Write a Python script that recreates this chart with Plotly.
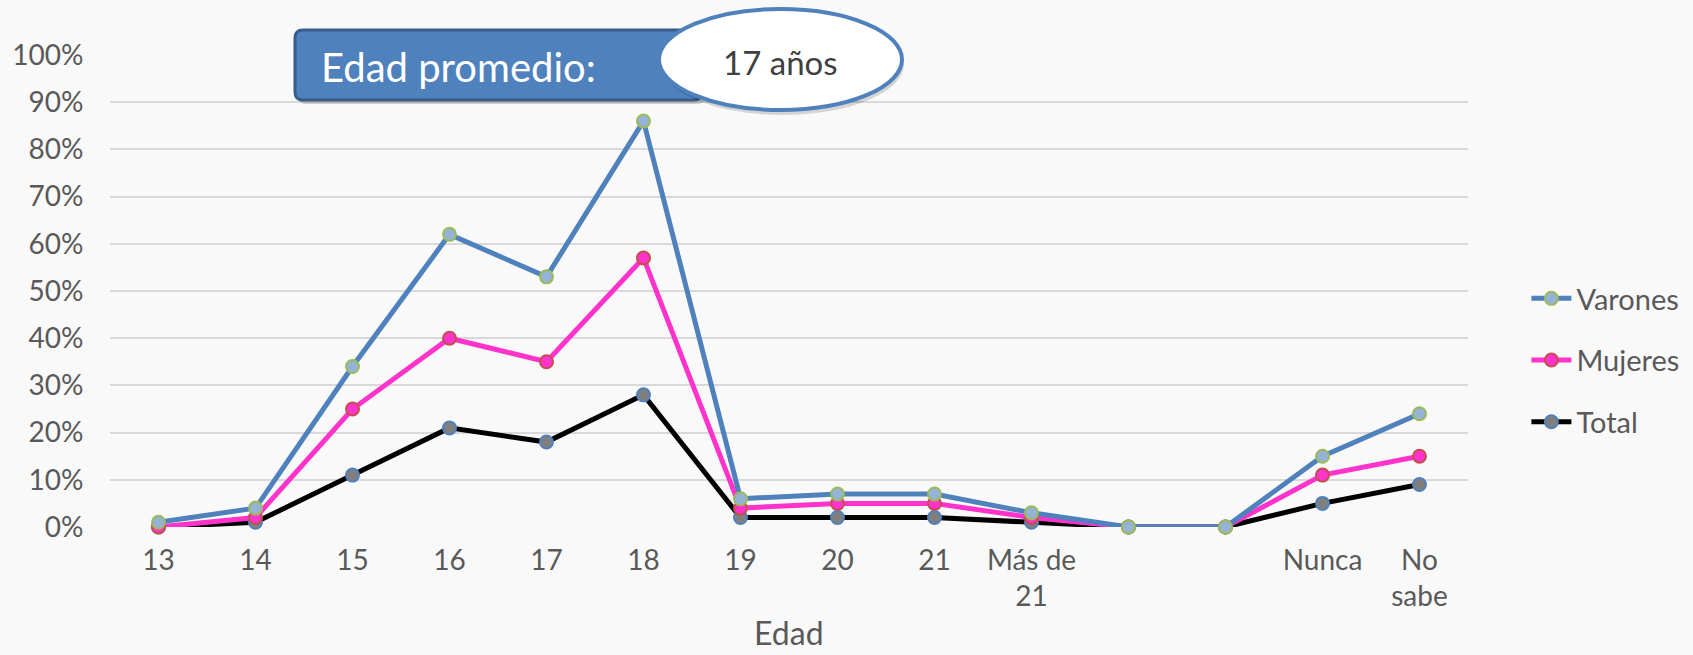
import plotly.graph_objects as go

# ---- data ----
categories = ["13", "14", "15", "16", "17", "18", "19", "20", "21",
              "Más de 21", "vacío 1", "vacío 2", "Nunca", "No sabe"]
tick_labels = ["13", "14", "15", "16", "17", "18", "19", "20", "21",
               "Más de<br>21", "", "", "Nunca", "No<br>sabe"]
varones = [0.01, 0.04, 0.34, 0.62, 0.53, 0.86, 0.06, 0.07, 0.07, 0.03, 0.00, 0.00, 0.15, 0.24]
mujeres = [0.00, 0.02, 0.25, 0.40, 0.35, 0.57, 0.04, 0.05, 0.05, 0.02, 0.00, 0.00, 0.11, 0.15]
total = [0.00, 0.01, 0.11, 0.21, 0.18, 0.28, 0.02, 0.02, 0.02, 0.01, 0.00, 0.00, 0.05, 0.09]
y_ticks = [0.0, 0.1, 0.2, 0.3, 0.4, 0.5, 0.6, 0.7, 0.8, 0.9, 1.0]
y_tick_labels = ["0%", "10%", "20%", "30%", "40%", "50%", "60%", "70%", "80%", "90%", "100%"]
x_title = "Edad"

# ---- layout geometry ----
W, H = 1693, 655
L, R, T, B = 110, 225, 55, 128
PW, PH = W - L - R, H - T - B
FONT = "Lato, 'Open Sans', sans-serif"
GRAY = "#595959"


def px(x):
    return (x - L) / PW


def py(y):
    return (H - B - y) / PH


def rounded_rect(x0, y0, x1, y1, r):
    pts = [
        f"M {px(x0 + r)},{py(y0)}",
        f"L {px(x1 - r)},{py(y0)}",
        f"Q {px(x1)},{py(y0)} {px(x1)},{py(y0 + r)}",
        f"L {px(x1)},{py(y1 - r)}",
        f"Q {px(x1)},{py(y1)} {px(x1 - r)},{py(y1)}",
        f"L {px(x0 + r)},{py(y1)}",
        f"Q {px(x0)},{py(y1)} {px(x0)},{py(y1 - r)}",
        f"L {px(x0)},{py(y0 + r)}",
        f"Q {px(x0)},{py(y0)} {px(x0 + r)},{py(y0)}",
        "Z",
    ]
    return " ".join(pts)


fig = go.Figure()

series = [
    ("Total", total, "#000000", "#7f7f7f", "#4f81bd"),
    ("Mujeres", mujeres, "#ff33cc", "#ff33cc", "#c0504d"),
    ("Varones", varones, "#4f81bd", "#95b3d7", "#9bbb59"),
]
for rank, (name, vals, lc, mf, mb) in enumerate(series):
    fig.add_trace(go.Scatter(
        x=categories, y=vals, name=name, mode="lines+markers",
        line=dict(color=lc, width=5),
        marker=dict(size=13, color=mf, line=dict(color=mb, width=2)),
        cliponaxis=False, legendrank=3 - rank, legendgroup=name,
    ))

shapes = [
    # shadow of the box
    dict(type="path", xref="paper", yref="paper",
         path=rounded_rect(298, 33, 705, 104, 8),
         fillcolor="rgba(0,0,0,0.18)", line=dict(width=0)),
    dict(type="path", xref="paper", yref="paper",
         path=rounded_rect(295, 30, 702, 100, 8),
         fillcolor="#4f81bd", line=dict(color="#385d8a", width=3)),
    # shadow of the ellipse
    dict(type="circle", xref="paper", yref="paper",
         x0=px(661), x1=px(904), y0=py(115), y1=py(13),
         fillcolor="rgba(0,0,0,0.15)", line=dict(width=0)),
    dict(type="circle", xref="paper", yref="paper",
         x0=px(659), x1=px(902), y0=py(110), y1=py(9),
         fillcolor="#ffffff", line=dict(color="#4f81bd", width=4)),
]

annotations = [
    dict(text="Edad promedio:", xref="paper", yref="paper",
         x=px(319), y=py(67), xanchor="left", yanchor="middle",
         showarrow=False, font=dict(family=FONT, size=40, color="#ffffff")),
    dict(text="17 años", xref="paper", yref="paper",
         x=px(780), y=py(62), xanchor="center", yanchor="middle",
         showarrow=False, font=dict(family=FONT, size=33, color="#404040")),
    # x-axis title
    dict(text=x_title, xref="paper", yref="paper",
         x=0.5, y=py(632), xanchor="center", yanchor="middle",
         showarrow=False, font=dict(family=FONT, size=32, color=GRAY)),
]

fig.update_layout(
    width=W, height=H,
    margin=dict(l=L, r=R, t=T, b=B, autoexpand=False),
    paper_bgcolor="#f9f9f9", plot_bgcolor="#f9f9f9",
    font=dict(family=FONT, color=GRAY, size=28),
    shapes=shapes, annotations=annotations,
    showlegend=True,
    legend=dict(x=1.043, y=py(273), xanchor="left", yanchor="top",
                font=dict(family=FONT, size=29, color=GRAY),
                bgcolor="rgba(0,0,0,0)", tracegroupgap=21,
                itemwidth=40),
    xaxis=dict(
        type="category", categoryorder="array", categoryarray=categories,
        range=[-0.5, len(categories) - 0.5],
        tickvals=categories, ticktext=tick_labels,
        showgrid=False, zeroline=False, showline=False,
        ticks="outside", ticklen=8, tickcolor="rgba(0,0,0,0)",
        tickfont=dict(family=FONT, size=28, color=GRAY),
        automargin=False,
    ),
    yaxis=dict(
        range=[0, 1.0], tickvals=y_ticks, ticktext=y_tick_labels,
        showgrid=True, gridcolor="#d9d9d9", gridwidth=2,
        zeroline=False, showline=False,
        ticks="outside", ticklen=20, tickcolor="rgba(0,0,0,0)",
        tickfont=dict(family=FONT, size=28, color=GRAY),
        automargin=False,
    ),
)

fig.write_html("out.html", config={"displayModeBar": False},
               post_script="document.body.style.margin='0';")
